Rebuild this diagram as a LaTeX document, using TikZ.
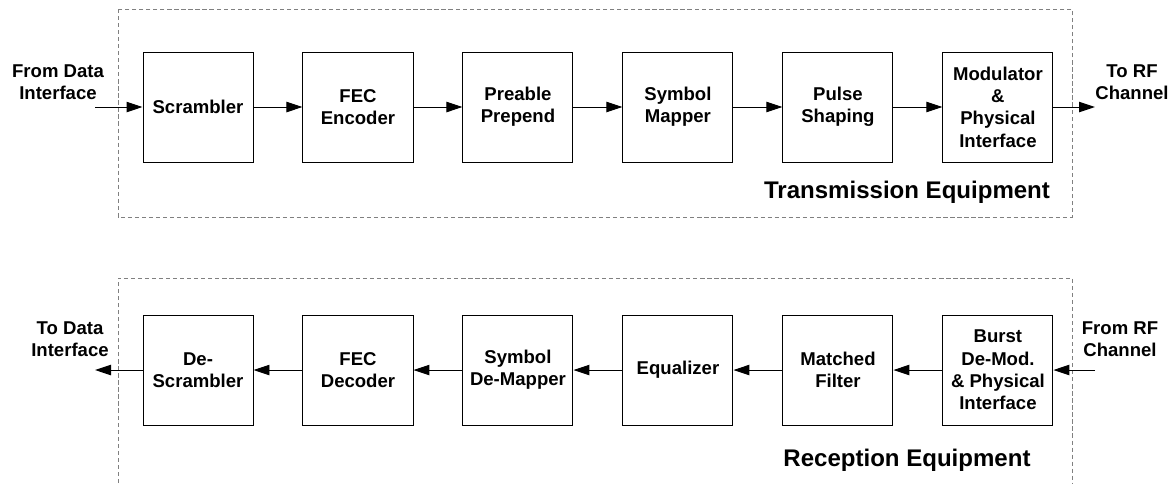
\documentclass[tikz,border=0pt]{standalone}
\usepackage{fontspec}
\setmainfont{Liberation Sans}
\usetikzlibrary{arrows.meta,positioning,calc}

\begin{document}
\begin{tikzpicture}
[x=.25mm,y=-.25mm,
node distance=1.225cm,
block/.style={draw=black,line width=.7pt,minimum width=2.75cm,minimum height=2.75cm,
  inner sep=1pt,align=center,font=\bfseries\fontsize{13.2}{15.9}\selectfont},
iolabel/.style={align=center,font=\bfseries\fontsize{13.2}{15.9}\selectfont},
eqlabel/.style={font=\bfseries\fontsize{17.1}{20}\selectfont},
frame/.style={gray,densely dashed,line width=.5pt},
flow/.style={line width=.7pt,-{Triangle[length=.4cm,width=.26cm]}}]
\useasboundingbox (0,0) rectangle (1176,483);
%%
% transmission
%%
\draw[frame] (118,9) rectangle (1072,217);
\node[block] (scr) at (198,107) {Scrambler};
\node[block,right=of scr] (fec) {FEC\\Encoder};
\node[block,right=of fec] (pre) {Preable\\Prepend};
\node[block,right=of pre] (map) {Symbol\\Mapper};
\node[block,right=of map] (pul) {Pulse\\Shaping};
\node[block,right=of pul] (mod) {Modulator\\\&\\Physical\\Interface};
\coordinate (tin) at (95,107);
\coordinate (tout) at (1095,107);
\node[iolabel] (fromdata) at (58,82) {From Data\\Interface};
\node[iolabel] (torf) at (1132,82) {To RF\\Channel};
\node[eqlabel] (tx) at (907,192) {Transmission Equipment};
\draw[flow] (tin) -- (scr);
\draw[flow] (scr) -- (fec);
\draw[flow] (fec) -- (pre);
\draw[flow] (pre) -- (map);
\draw[flow] (map) -- (pul);
\draw[flow] (pul) -- (mod);
\draw[flow] (mod) -- (tout);
%%
% reception
%%
\draw[frame] (118,483) -- (118,278) -- (1072,278) -- (1072,483);
\node[block] (dscr) at (198,370) {De-\\Scrambler};
\node[block,right=of dscr] (dec) {FEC\\Decoder};
\node[block,right=of dec] (dmap) {Symbol\\De-Mapper};
\node[block,right=of dmap] (equ) {Equalizer};
\node[block,right=of equ] (mat) {Matched\\Filter};
\node[block,right=of mat] (dmod) {Burst\\De-Mod.\\\& Physical\\Interface};
\coordinate (rin) at (1095,370);
\coordinate (rout) at (95,370);
\node[iolabel] (todata) at (70,339) {To Data\\Interface};
\node[iolabel] (fromrf) at (1120,339) {From RF\\Channel};
\node[eqlabel] (rx) at (907,460) {Reception Equipment};
\draw[flow] (rin) -- (dmod);
\draw[flow] (dmod) -- (mat);
\draw[flow] (mat) -- (equ);
\draw[flow] (equ) -- (dmap);
\draw[flow] (dmap) -- (dec);
\draw[flow] (dec) -- (dscr);
\draw[flow] (dscr) -- (rout);
\end{tikzpicture}
\end{document}
